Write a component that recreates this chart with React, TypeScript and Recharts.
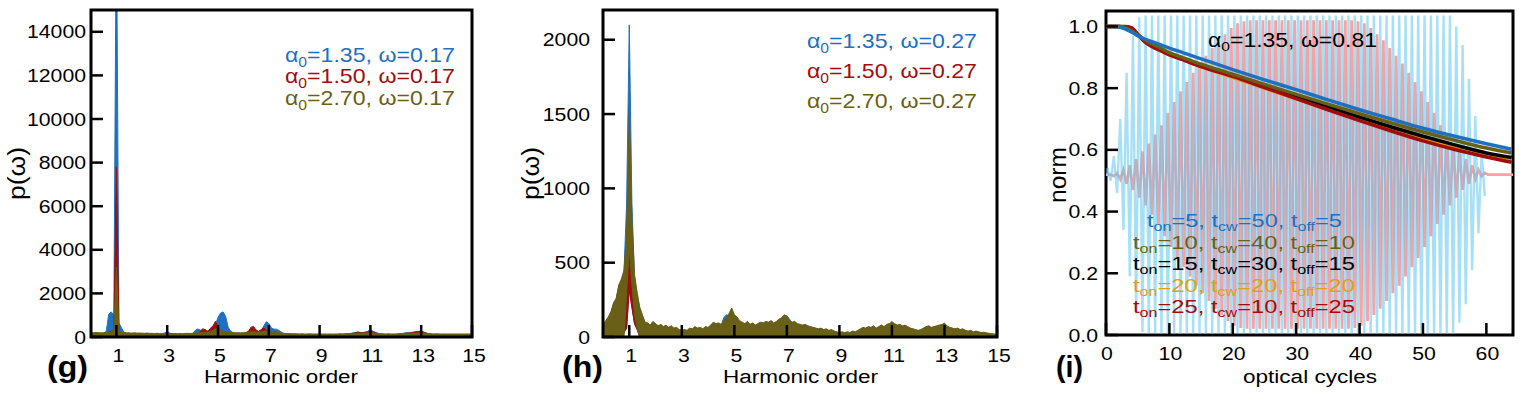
import React from "react";
import { Area, ComposedChart, Line, ReferenceArea, XAxis, YAxis } from "recharts";

const FONT = '"Liberation Sans", Arial, Helvetica, sans-serif';
const BLUE = "#1f70c1";
const RED = "#a00d0d";
const OLIVE = "#6a5f16";
const ORANGE = "#e0a010";
const FIELD_BLUE = "#5cc6f2";
const FIELD_PINK = "#f8a2a2";

// spectra are sampled every 0.1 harmonic, from 0 to 15
const HARMONIC_STEP = 0.1;
const harmonicTicks = [1, 3, 5, 7, 9, 11, 13, 15];

// (g) omega = 0.17
const gTicksY = [0, 2000, 4000, 6000, 8000, 10000, 12000, 14000];
const gBlue = [
  120, 130, 140, 130, 140, 170, 250, 1050, 1150, 1000,
  20000, 650, 420, 220, 160, 150, 140, 140, 130, 130,
  130, 130, 140, 130, 130, 130, 140, 130, 140, 180,
  260, 180, 140, 130, 130, 130, 130, 140, 130, 140,
  150, 300, 370, 320, 270, 320, 280, 380, 450, 560,
  900, 1100, 1150, 950, 450, 260, 200, 170, 160, 150,
  150, 160, 170, 200, 220, 210, 200, 280, 500, 700,
  620, 420, 360, 360, 300, 220, 150, 130, 120, 120,
  110, 110, 110, 110, 110, 110, 110, 110, 110, 110,
  110, 110, 110, 110, 110, 110, 110, 110, 120, 120,
  130, 140, 160, 180, 200, 220, 210, 200, 230, 260,
  360, 260, 220, 170, 130, 120, 110, 110, 110, 110,
  120, 130, 150, 170, 190, 200, 210, 230, 250, 260,
  270, 230, 180, 150, 120, 110, 110, 110, 110, 110,
  110, 110, 110, 110, 110, 110, 110, 110, 110, 110,
  110,
];
const gRed = [
  100, 110, 120, 110, 110, 120, 150, 220, 260, 320,
  7800, 260, 150, 120, 110, 110, 100, 110, 100, 100,
  100, 100, 100, 100, 100, 100, 100, 100, 100, 100,
  100, 100, 100, 100, 100, 100, 100, 100, 100, 100,
  110, 130, 160, 250, 380, 330, 250, 400, 500, 720,
  480, 300, 250, 180, 150, 130, 120, 120, 130, 140,
  150, 200, 260, 450, 480, 320, 260, 340, 420, 320,
  280, 240, 200, 160, 130, 110, 100, 100, 100, 100,
  100, 100, 100, 100, 100, 100, 100, 100, 100, 100,
  100, 100, 100, 100, 100, 100, 100, 100, 100, 100,
  120, 130, 150, 170, 180, 230, 200, 190, 210, 220,
  260, 220, 180, 150, 120, 110, 100, 100, 100, 100,
  110, 120, 140, 160, 170, 180, 190, 210, 230, 240,
  260, 220, 180, 140, 120, 100, 100, 100, 100, 100,
  100, 100, 100, 100, 100, 100, 100, 100, 100, 100,
  100,
];
const gOlive = [
  190, 200, 210, 200, 190, 200, 210, 220, 230, 350,
  3200, 300, 220, 200, 190, 190, 180, 190, 180, 180,
  180, 170, 180, 170, 170, 160, 170, 160, 160, 170,
  160, 160, 150, 160, 150, 160, 150, 160, 170, 160,
  170, 180, 190, 200, 210, 220, 230, 250, 300, 380,
  420, 340, 280, 240, 220, 210, 200, 190, 200, 190,
  200, 210, 220, 230, 240, 230, 230, 240, 260, 280,
  290, 270, 240, 220, 200, 180, 170, 160, 160, 150,
  150, 150, 140, 150, 140, 140, 150, 140, 140, 140,
  140, 140, 140, 135, 140, 135, 140, 140, 150, 140,
  150, 150, 160, 150, 160, 170, 160, 170, 180, 190,
  200, 180, 170, 160, 150, 150, 140, 150, 140, 140,
  140, 150, 150, 160, 170, 170, 160, 170, 180, 180,
  190, 180, 170, 160, 150, 140, 150, 140, 140, 140,
  140, 140, 140, 140, 140, 140, 140, 140, 140, 140,
  140,
];

// (h) omega = 0.27
const hTicksY = [0, 500, 1000, 1500, 2000];
const hBlue = [
  70, 100, 125, 160, 220, 250, 340, 380, 440, 900,
  2100, 900, 400, 280, 190, 140, 95, 90, 75, 100,
  85, 70, 80, 65, 75, 60, 70, 55, 60, 45,
  40, 45, 40, 55, 50, 65, 55, 60, 50, 65,
  60, 75, 95, 85, 90, 80, 130, 150, 140, 180,
  140, 125, 100, 95, 85, 100, 80, 90, 75, 85,
  95, 90, 100, 95, 105, 90, 100, 115, 125, 140,
  145, 120, 95, 100, 85, 80, 75, 80, 70, 65,
  60, 55, 50, 55, 45, 50, 40, 45, 35, 30,
  25, 30, 25, 30, 25, 35, 30, 40, 50, 60,
  55, 65, 60, 70, 55, 65, 75, 65, 80, 85,
  105, 85, 75, 80, 70, 75, 65, 55, 50, 45,
  40, 45, 55, 65, 70, 60, 65, 70, 75, 80,
  95, 70, 60, 55, 50, 55, 45, 50, 40, 35,
  40, 30, 35, 30, 25, 27, 23, 20, 18, 15,
  13,
];
const hRed = [
  20, 30, 30, 30, 35, 80, 150, 220, 280, 600,
  900, 450, 250, 120, 60, 40, 30, 30, 25, 30,
  25, 25, 30, 25, 25, 20, 25, 20, 20, 20,
  20, 20, 20, 25, 20, 25, 20, 25, 20, 25,
  25, 30, 30, 25, 30, 25, 30, 40, 60, 80,
  70, 50, 40, 30, 25, 30, 25, 30, 25, 30,
  30, 25, 30, 30, 35, 30, 35, 40, 45, 55,
  45, 35, 30, 30, 25, 25, 20, 25, 20, 20,
  20, 20, 20, 20, 20, 20, 20, 20, 20, 20,
  15, 15, 15, 15, 15, 15, 15, 15, 20, 20,
  20, 20, 20, 25, 20, 20, 25, 20, 25, 25,
  30, 25, 20, 25, 20, 20, 20, 15, 15, 15,
  15, 15, 20, 20, 20, 20, 20, 20, 25, 25,
  25, 20, 20, 15, 15, 15, 15, 15, 15, 15,
  15, 15, 15, 15, 10, 10, 10, 10, 10, 10,
  10,
];
const hOlive = [
  80, 110, 135, 170, 230, 260, 350, 390, 450, 700,
  1500, 800, 420, 300, 200, 150, 100, 95, 80, 105,
  90, 75, 85, 70, 80, 65, 75, 60, 65, 50,
  45, 50, 45, 60, 55, 70, 60, 65, 55, 70,
  65, 80, 100, 90, 95, 85, 110, 130, 160, 195,
  150, 135, 110, 100, 90, 105, 85, 95, 80, 90,
  100, 95, 105, 100, 110, 95, 105, 120, 130, 150,
  135, 110, 100, 105, 90, 85, 80, 85, 75, 70,
  65, 60, 55, 60, 50, 55, 45, 50, 40, 35,
  30, 35, 30, 35, 30, 40, 35, 45, 55, 65,
  60, 70, 65, 75, 60, 70, 80, 70, 85, 90,
  100, 90, 80, 85, 75, 80, 70, 60, 55, 50,
  45, 50, 60, 70, 75, 65, 70, 75, 80, 85,
  90, 75, 65, 60, 55, 60, 50, 55, 45, 40,
  45, 35, 40, 35, 30, 32, 28, 25, 22, 20,
  18,
];
// lower edge of the traces around the fundamental (white gap under the peak)
const hPeakX = [0.8, 0.9, 1.0, 1.1, 1.2, 1.3];
const hBlueLo = [30, 60, 320, 200, 90, 50];
const hRedLo = [30, 60, 320, 200, 90, 50];
const hOliveLo = [0, 300, 600, 350, 150, 60];

// (i) omega = 0.81, norm vs optical cycles
const iTicksX = [0, 10, 20, 30, 40, 50, 60];
const iTicksY = [0, 0.2, 0.4, 0.6, 0.8, 1.0];
const I_XMAX = 64.2;
const normX = [0, 1, 2, 3, 4, 5, 6, 7, 8, 10, 12, 15, 20, 25, 30, 35, 40, 45, 50, 55, 60, 64];
const normOn5 = [1.0, 1.0, 0.998, 0.992, 0.982, 0.97, 0.96, 0.952, 0.945, 0.93, 0.916, 0.895, 0.86, 0.827, 0.795, 0.762, 0.73, 0.7, 0.67, 0.644, 0.62, 0.602];
const normOn10 = [1.0, 1.0, 1.0, 0.996, 0.986, 0.972, 0.958, 0.946, 0.936, 0.915, 0.9, 0.878, 0.845, 0.812, 0.78, 0.748, 0.717, 0.687, 0.658, 0.631, 0.606, 0.59];
const normOn15 = [1.0, 1.0, 1.0, 0.997, 0.987, 0.972, 0.956, 0.943, 0.932, 0.911, 0.896, 0.874, 0.84, 0.806, 0.772, 0.739, 0.706, 0.674, 0.644, 0.616, 0.59, 0.575];
const normOn20 = [1.0, 1.0, 1.0, 0.998, 0.99, 0.975, 0.957, 0.942, 0.93, 0.908, 0.893, 0.87, 0.835, 0.8, 0.765, 0.732, 0.699, 0.667, 0.637, 0.609, 0.584, 0.567];
const normOn25 = [1.0, 1.0, 1.0, 1.0, 0.996, 0.975, 0.952, 0.937, 0.927, 0.908, 0.893, 0.87, 0.838, 0.802, 0.766, 0.73, 0.695, 0.661, 0.629, 0.601, 0.577, 0.56];

// laser field (scaled) drawn behind: centre line and amplitude per optical cycle 0..63
const FIELD_CENTER = 0.52;
const fieldBlueAmp = [
  0.02, 0.06, 0.18, 0.33, 0.45, 0.51, 0.515, 0.515, 0.515, 0.515,
  0.515, 0.515, 0.515, 0.515, 0.515, 0.515, 0.515, 0.515, 0.515, 0.515,
  0.515, 0.515, 0.515, 0.515, 0.515, 0.515, 0.515, 0.515, 0.515, 0.515,
  0.515, 0.515, 0.515, 0.515, 0.515, 0.515, 0.515, 0.515, 0.515, 0.515,
  0.515, 0.515, 0.515, 0.515, 0.515, 0.515, 0.515, 0.515, 0.515, 0.515,
  0.515, 0.515, 0.515, 0.515, 0.515, 0.48, 0.42, 0.31, 0.19, 0.07,
  0, 0, 0, 0,
];
const fieldPinkAmp = [
  0, 0.005, 0.015, 0.03, 0.05, 0.075, 0.1, 0.13, 0.16, 0.2,
  0.235, 0.27, 0.3, 0.33, 0.36, 0.385, 0.41, 0.435, 0.455, 0.475,
  0.49, 0.497, 0.5, 0.5, 0.5, 0.5, 0.5, 0.5, 0.5, 0.5,
  0.5, 0.5, 0.5, 0.5, 0.5, 0.5, 0.5, 0.5, 0.5, 0.497,
  0.49, 0.475, 0.455, 0.435, 0.41, 0.385, 0.36, 0.33, 0.3, 0.27,
  0.235, 0.2, 0.16, 0.13, 0.1, 0.075, 0.05, 0.03, 0.015, 0.005,
  0, 0, 0, 0,
];

const harmX = (i: number) => Math.round(i * HARMONIC_STEP * 10) / 10;
const gRows = gBlue.map((_, i) => ({ x: harmX(i), blue: gBlue[i], red: gRed[i], olive: gOlive[i] }));
const loAt = (lo: number[], x: number) => {
  const k = hPeakX.findIndex((p) => Math.abs(p - x) < 1e-6);
  return k < 0 ? 0 : lo[k];
};
const hRows = hBlue.map((_, i) => {
  const x = harmX(i);
  return {
    x,
    blue: [loAt(hBlueLo, x), hBlue[i]],
    red: [loAt(hRedLo, x), hRed[i]],
    olive: [loAt(hOliveLo, x), hOlive[i]],
  };
});
// blue pulse is only drawn while it is on; pink keeps its flat line to the edge
const blueLast = fieldBlueAmp.reduce((last, a, n) => (a > 0 ? n : last), 0);
const fieldRows: { x: number; fb: number | null; fp: number }[] = [{ x: 0, fb: FIELD_CENTER, fp: FIELD_CENTER }];
fieldBlueAmp.forEach((a, n) => {
  const p = fieldPinkAmp[n];
  const on = n <= blueLast;
  fieldRows.push({ x: n + 0.25, fb: on ? FIELD_CENTER + a : null, fp: FIELD_CENTER - p });
  fieldRows.push({ x: n + 0.75, fb: on ? FIELD_CENTER - a : null, fp: FIELD_CENTER + p });
});
fieldRows.push({ x: I_XMAX, fb: null, fp: FIELD_CENTER });
const normRows = normX.map((x, i) => ({
  x,
  on5: normOn5[i],
  on10: normOn10[i],
  on15: normOn15[i],
  on20: normOn20[i],
  on25: normOn25[i],
}));

const TICK = 12;
const AXIS_H = 30;
const AXIS_W = 60;
const MIRROR = 10;
const tickStroke = { stroke: "#000", strokeWidth: 2.5 };
type TickProps = { x: number; y: number; payload: { value: number } };

const xLabel = (fmt: (v: number) => string, dx: number) => (p: TickProps) => (
  <text
    transform={`translate(${p.x + dx},${p.y + 25}) scale(1.18,1)`}
    textAnchor="middle"
    fontSize={18}
    fontFamily={FONT}
    fill="#000"
  >
    {fmt(p.payload.value)}
  </text>
);

const yLabel = (fmt: (v: number) => string, gap: number) => (p: TickProps) => (
  <text
    transform={`translate(${p.x - gap},${p.y + 6.5}) scale(1.18,1)`}
    textAnchor="end"
    fontSize={18}
    fontFamily={FONT}
    fill="#000"
  >
    {fmt(p.payload.value)}
  </text>
);

const intFmt = (v: number) => String(v);
const oneDec = (v: number) => v.toFixed(1);

type Seg = { t: string; sub?: boolean };
function Rich({ x, y, size, width, fill, segs }: { x: number; y: number; size: number; width: number; fill: string; segs: Seg[] }) {
  const shift = size * 0.22;
  let prevSub = false;
  return (
    <text x={x} y={y} fontSize={size} fill={fill} fontFamily={FONT} textLength={width} lengthAdjust="spacingAndGlyphs">
      {segs.map((s, i) => {
        const dy = s.sub ? (prevSub ? 0 : shift) : prevSub ? -shift : 0;
        prevSub = !!s.sub;
        return (
          <tspan key={i} dy={dy} fontSize={s.sub ? size * 0.68 : size}>
            {s.t}
          </tspan>
        );
      })}
    </text>
  );
}

const alpha = (a: string, w: string): Seg[] => [{ t: "α" }, { t: "0", sub: true }, { t: `=${a}, ω=${w}` }];
const times = (on: string, cw: string, off: string): Seg[] => [
  { t: "t" },
  { t: "on", sub: true },
  { t: `=${on}, t` },
  { t: "cw", sub: true },
  { t: `=${cw}, t` },
  { t: "off", sub: true },
  { t: `=${off}` },
];

function Overlay() {
  return (
    <svg width={1523} height={393} style={{ position: "absolute", left: 0, top: 0, pointerEvents: "none" }}>
      <g fontFamily={FONT}>
        <Rich x={285} y={62} size={21} width={170} fill={BLUE} segs={alpha("1.35", "0.17")} />
        <Rich x={285} y={83} size={21} width={170} fill={RED} segs={alpha("1.50", "0.17")} />
        <Rich x={285} y={105} size={21} width={170} fill={OLIVE} segs={alpha("2.70", "0.17")} />

        <Rich x={807} y={48} size={21} width={170} fill={BLUE} segs={alpha("1.35", "0.27")} />
        <Rich x={807} y={78} size={21} width={170} fill={RED} segs={alpha("1.50", "0.27")} />
        <Rich x={807} y={108} size={21} width={170} fill={OLIVE} segs={alpha("2.70", "0.27")} />

        <Rich x={1208} y={47} size={20} width={169} fill="#000" segs={alpha("1.35", "0.81")} />
        <Rich x={1147} y={227} size={19} width={195} fill={BLUE} segs={times("5", "50", "5")} />
        <Rich x={1133} y={249} size={19} width={222} fill={OLIVE} segs={times("10", "40", "10")} />
        <Rich x={1133} y={270} size={19} width={222} fill="#000" segs={times("15", "30", "15")} />
        <Rich x={1133} y={292} size={19} width={222} fill={ORANGE} segs={times("20", "20", "20")} />
        <Rich x={1133} y={313} size={19} width={222} fill={RED} segs={times("25", "10", "25")} />

        <text x={204} y={383} fontSize={18} textLength={154} lengthAdjust="spacingAndGlyphs">Harmonic order</text>
        <text x={723} y={383} fontSize={18} textLength={155} lengthAdjust="spacingAndGlyphs">Harmonic order</text>
        <text x={1243} y={383} fontSize={18} textLength={134} lengthAdjust="spacingAndGlyphs">optical cycles</text>

        <text transform="translate(25,200) rotate(-90)" fontSize={23} textLength={53} lengthAdjust="spacingAndGlyphs">p(ω)</text>
        <text transform="translate(539,200) rotate(-90)" fontSize={23} textLength={53} lengthAdjust="spacingAndGlyphs">p(ω)</text>
        <text transform="translate(1066,203) rotate(-90)" fontSize={23} textLength={56} lengthAdjust="spacingAndGlyphs">norm</text>

        <text x={47} y={377} fontSize={30} fontWeight="bold" textLength={41} lengthAdjust="spacingAndGlyphs">(g)</text>
        <text x={562} y={377} fontSize={30} fontWeight="bold" textLength={41} lengthAdjust="spacingAndGlyphs">(h)</text>
        <text x={1056} y={377} fontSize={30} fontWeight="bold" textLength={27} lengthAdjust="spacingAndGlyphs">(i)</text>
      </g>
    </svg>
  );
}

// four axes per panel: labelled bottom/left, unlabelled mirrors top/right; all ticks point inward
function Axes({ xDomain, xTicks, yDomain, yTicks, xFmt, yFmt, xDx, yGap }: {
  xDomain: [number, number]; xTicks: number[]; yDomain: [number, number]; yTicks: number[];
  xFmt: (v: number) => string; yFmt: (v: number) => string; xDx: number; yGap: number;
}) {
  return [
    <XAxis key="xb" xAxisId="b" dataKey="x" type="number" domain={xDomain} ticks={xTicks} interval={0} allowDataOverflow
      height={AXIS_H} axisLine={false} tickLine={tickStroke} tickSize={-TICK} tickMargin={TICK} tick={xLabel(xFmt, xDx)} />,
    <XAxis key="xt" xAxisId="t" orientation="top" dataKey="x" type="number" domain={xDomain} ticks={xTicks} interval={0}
      allowDataOverflow height={MIRROR} axisLine={false} tickLine={tickStroke} tickSize={-TICK} tick={false} />,
    <YAxis key="yl" yAxisId="l" type="number" domain={yDomain} ticks={yTicks} interval={0} allowDataOverflow
      width={AXIS_W} axisLine={false} tickLine={tickStroke} tickSize={-TICK} tickMargin={TICK} tick={yLabel(yFmt, yGap)} />,
    <YAxis key="yr" yAxisId="r" orientation="right" type="number" domain={yDomain} ticks={yTicks} interval={0}
      allowDataOverflow width={MIRROR} axisLine={false} tickLine={tickStroke} tickSize={-TICK} tick={false} />,
  ];
}

const areaProps = { type: "linear" as const, xAxisId: "b", yAxisId: "l", strokeWidth: 1, fillOpacity: 1, dot: false, activeDot: false, isAnimationActive: false };

function SpectrumG() {
  return (
    <ComposedChart width={500} height={393} data={gRows}
      margin={{ top: 10 - MIRROR, right: 28 - MIRROR, bottom: 56 - AXIS_H, left: 91 - AXIS_W }}>
      {Axes({ xDomain: [0, 15], xTicks: harmonicTicks, yDomain: [0, 15000], yTicks: gTicksY, xFmt: intFmt, yFmt: intFmt, xDx: 2, yGap: 5 })}
      <Area {...areaProps} dataKey="blue" stroke={BLUE} fill={BLUE} />
      <Area {...areaProps} dataKey="red" stroke={RED} fill={RED} />
      <Area {...areaProps} dataKey="olive" stroke={OLIVE} fill={OLIVE} />
      <ReferenceArea xAxisId="b" yAxisId="l" x1={0} x2={15} y1={0} y2={15000} fill="none" stroke="#000" strokeWidth={3} />
    </ComposedChart>
  );
}

function SpectrumH() {
  return (
    <ComposedChart width={510} height={393} data={hRows}
      margin={{ top: 10 - MIRROR, right: 23 - MIRROR, bottom: 56 - AXIS_H, left: 93 - AXIS_W }}>
      {Axes({ xDomain: [0, 15], xTicks: harmonicTicks, yDomain: [0, 2200], yTicks: hTicksY, xFmt: intFmt, yFmt: intFmt, xDx: 2, yGap: 13 })}
      <Area {...areaProps} dataKey="blue" stroke={BLUE} fill={BLUE} />
      <Area {...areaProps} dataKey="red" stroke={RED} fill={RED} />
      <Area {...areaProps} dataKey="olive" stroke={OLIVE} fill={OLIVE} />
      <ReferenceArea xAxisId="b" yAxisId="l" x1={0} x2={15} y1={0} y2={2200} fill="none" stroke="#000" strokeWidth={3} />
    </ComposedChart>
  );
}

function NormI() {
  const norms: [string, string][] = [
    ["on20", ORANGE],
    ["on15", "#000"],
    ["on25", RED],
    ["on10", OLIVE],
    ["on5", BLUE],
  ];
  return (
    <ComposedChart width={503} height={393} data={fieldRows}
      margin={{ top: 11 - MIRROR, right: 10 - MIRROR, bottom: 58 - AXIS_H, left: 86 - AXIS_W }}>
      {Axes({ xDomain: [0, I_XMAX], xTicks: iTicksX, yDomain: [0, 1.05], yTicks: iTicksY, xFmt: intFmt, yFmt: oneDec, xDx: 1, yGap: 8 })}
      <Line xAxisId="b" yAxisId="l" type="linear" dataKey="fp" stroke={FIELD_PINK} strokeWidth={2.8} dot={false} activeDot={false} isAnimationActive={false} />
      <Line xAxisId="b" yAxisId="l" type="linear" dataKey="fb" stroke={FIELD_BLUE} strokeOpacity={0.55} strokeWidth={2.4} dot={false} activeDot={false} isAnimationActive={false} />
      {norms.map(([key, color]) => (
        <Line key={key} xAxisId="b" yAxisId="l" data={normRows} type="monotone" dataKey={key} stroke={color} strokeWidth={3.5}
          dot={false} activeDot={false} isAnimationActive={false} />
      ))}
      <ReferenceArea xAxisId="b" yAxisId="l" x1={0} x2={I_XMAX} y1={0} y2={1.05} fill="none" stroke="#000" strokeWidth={3} />
    </ComposedChart>
  );
}

export default function App() {
  return (
    <div style={{ position: "absolute", left: 0, top: 0, width: 1523, height: 393, background: "#fff", overflow: "hidden" }}>
      <div style={{ position: "absolute", left: 0, top: 0 }}>
        <SpectrumG />
      </div>
      <div style={{ position: "absolute", left: 510, top: 0 }}>
        <SpectrumH />
      </div>
      <div style={{ position: "absolute", left: 1020, top: 0 }}>
        <NormI />
      </div>
      <Overlay />
    </div>
  );
}
